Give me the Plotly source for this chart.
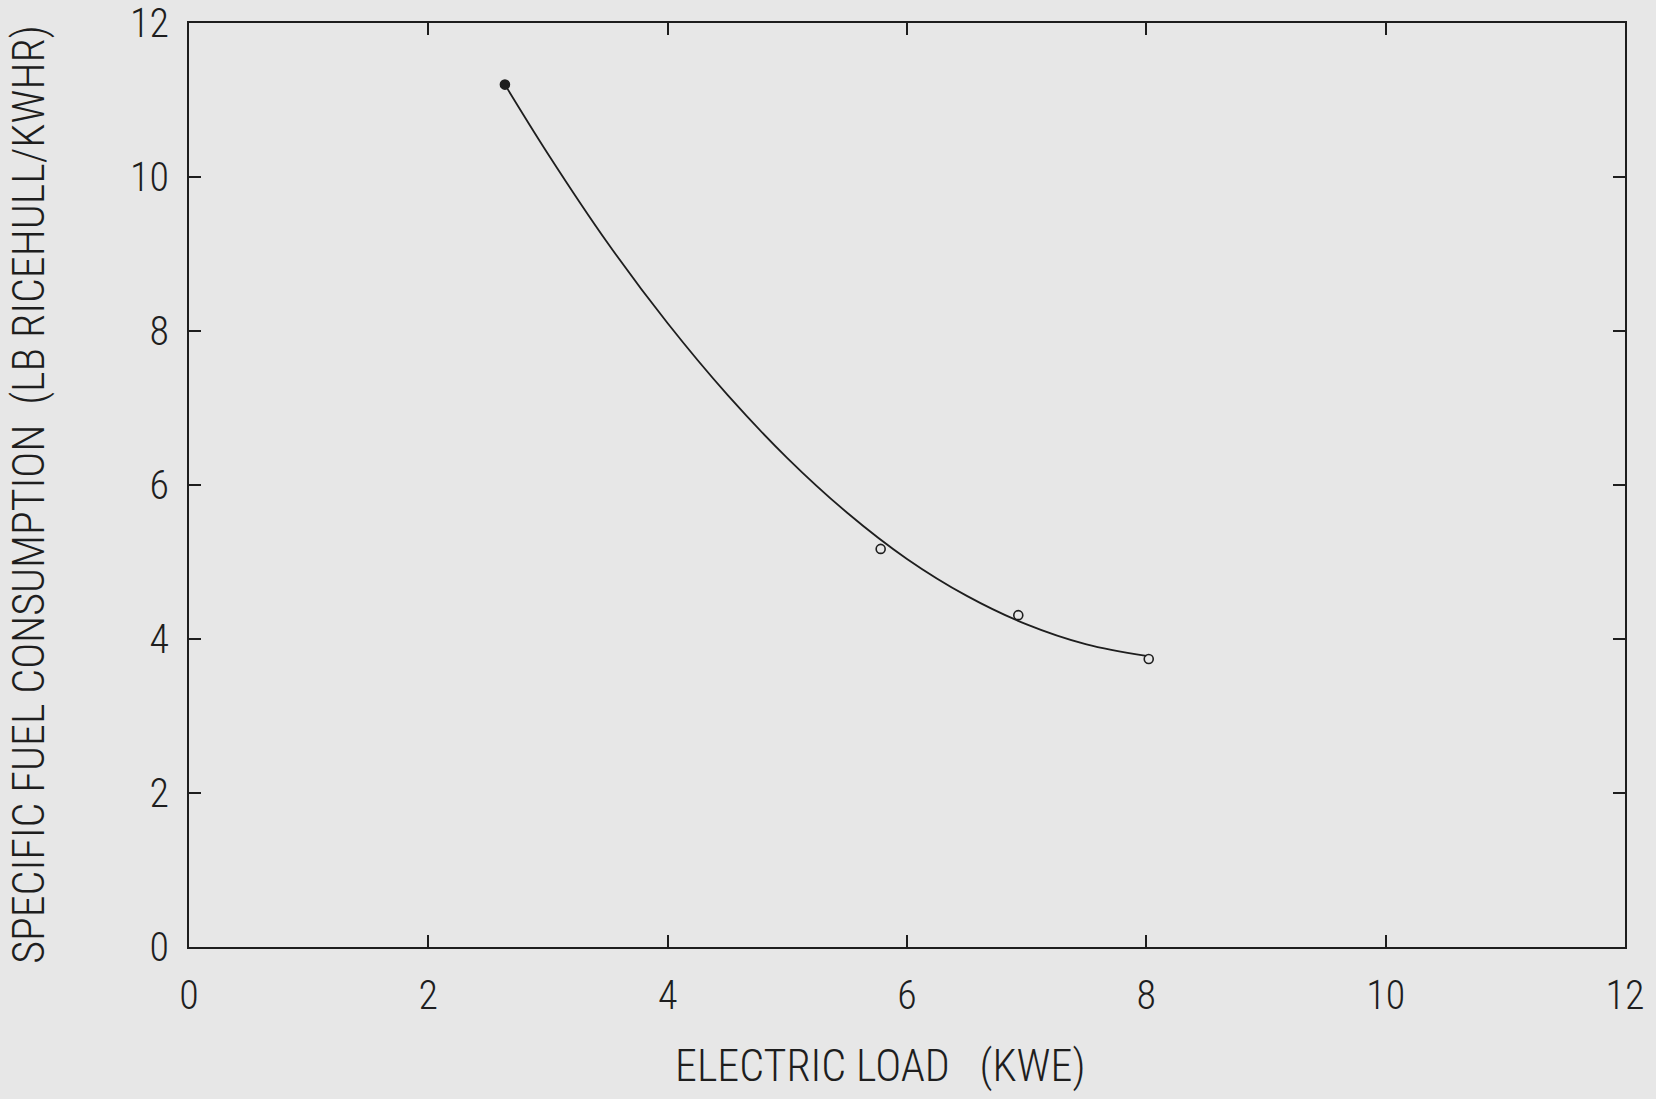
import plotly.graph_objects as go

# Measured points
load_kwe = [2.64, 5.78, 6.93, 8.02]
sfc = [11.20, 5.17, 4.31, 3.74]
marker_symbols = ["circle", "circle-open", "circle-open", "circle-open"]

# Fitted curve
curve_x = [2.64, 3.0, 3.5, 4.0, 4.5, 5.0, 5.5, 6.0, 6.5, 7.0, 7.5, 8.0]
curve_y = [11.20, 10.30, 9.14, 8.10, 7.17, 6.35, 5.64, 5.04, 4.56, 4.19, 3.93, 3.78]

tick_vals = [0, 2, 4, 6, 8, 10, 12]
tick_text = ["0", "2", "4", "6", "8", "10", "12"]

x_title = "ELECTRIC LOAD   (KWE)"
y_title = "SPECIFIC FUEL CONSUMPTION  (LB RICEHULL/KWHR)"

FONT = "Roboto Condensed, Roboto, sans-serif"
INK = "#1e1e1e"
BG = "#e7e7e7"

fig = go.Figure()
fig.add_trace(go.Scatter(x=curve_x, y=curve_y, mode="lines",
                         line=dict(color=INK, width=1.8, shape="spline", smoothing=1.0),
                         showlegend=False, hoverinfo="skip"))
fig.add_trace(go.Scatter(x=load_kwe, y=sfc, mode="markers",
                         marker=dict(symbol=marker_symbols, size=9, color=INK,
                                     line=dict(color=INK, width=1.6)),
                         showlegend=False))

axis_common = dict(
    range=[0, 12], tickvals=tick_vals, ticktext=tick_text,
    ticks="inside", ticklen=12, tickwidth=2, tickcolor=INK,
    showline=True, linecolor=INK, linewidth=2.2, mirror="ticks",
    showgrid=False, zeroline=False, automargin=False,
    tickfont=dict(family=FONT, size=40, color=INK, weight=300),
)
fig.update_xaxes(**axis_common, ticklabelstandoff=12)
fig.update_yaxes(**axis_common, ticklabelstandoff=10)

fig.update_layout(
    width=1656, height=1099,
    margin=dict(l=189, r=31, t=23, b=152, autoexpand=False),
    paper_bgcolor=BG, plot_bgcolor=BG,
    font=dict(family=FONT, color=INK),
    annotations=[
        dict(text=x_title, xref="paper", yref="paper", x=0.481, y=-0.129,
             xanchor="center", yanchor="middle", showarrow=False,
             font=dict(family=FONT, size=44, color=INK, weight=300)),
        dict(text=y_title, xref="paper", yref="paper", x=-0.111, y=0.489,
             xanchor="center", yanchor="middle", showarrow=False, textangle=-90,
             font=dict(family=FONT, size=44, color=INK, weight=300)),
    ],
)

fig.write_html("out.html")
